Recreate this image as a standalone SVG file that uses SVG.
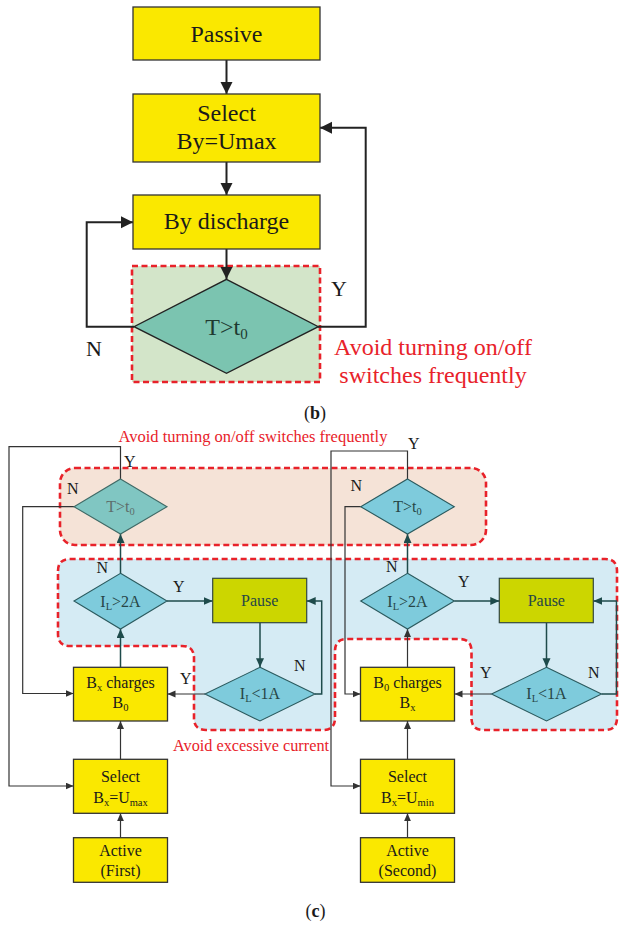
<svg xmlns="http://www.w3.org/2000/svg" width="619" height="925" viewBox="0 0 619 925" font-family="'Liberation Serif', 'DejaVu Serif', serif">
  <style>
    text { font-family: 'Liberation Serif', 'DejaVu Serif', serif; }
    .b24 { font-size: 24px; fill: #1a1a1a; text-anchor: middle; }
    .c16 { font-size: 16px; fill: #1a1a1a; text-anchor: middle; }
    .lbl { font-size: 16px; fill: #1a1a1a; }
    .lblb { font-size: 22px; fill: #1a1a1a; }
    .red { fill: #e8222a; }
    .teal-text { fill: #274646; }
    .box { fill: #fae800; stroke: #333; stroke-width: 1.3; }
    .pause { fill: #ccd600; stroke: #34473f; stroke-width: 1.2; }
    .dia-b { fill: #7bc4b0; stroke: #222; stroke-width: 1.3; }
    .dia-blue { fill: #7ecbdc; stroke: #2b5a5e; stroke-width: 1.1; }
    .dia-teal { fill: #80c6c2; stroke: #3f6a66; stroke-width: 1.1; }
    .conn-b { stroke: #222; stroke-width: 2; fill: none; }
    .conn { stroke: #333; stroke-width: 1.2; fill: none; }
    .conn-t { stroke: #1e4b4b; stroke-width: 1.5; fill: none; }
    .zone { stroke: #e8222a; stroke-width: 2.6; stroke-dasharray: 6 3.5; }
  </style>
  <defs>
    <marker id="mb" markerUnits="userSpaceOnUse" markerWidth="13" markerHeight="13" refX="12" refY="6" orient="auto">
      <path d="M0,0 L12,6 L0,12 z" fill="#222"/>
    </marker>
    <marker id="ms" markerUnits="userSpaceOnUse" markerWidth="9" markerHeight="9" refX="8" refY="3.5" orient="auto">
      <path d="M0,0 L8,3.5 L0,7 z" fill="#333"/>
    </marker>
    <marker id="mt" markerUnits="userSpaceOnUse" markerWidth="10" markerHeight="10" refX="9" refY="4" orient="auto">
      <path d="M0,0 L9,4 L0,8 z" fill="#1e4b4b"/>
    </marker>
  </defs>

  <!-- ===== Panel (b) ===== -->
  <g id="zone-b">
    <rect class="zone" x="132" y="266" width="188" height="116" fill="#d3e5c9"/>
  </g>

  <g id="connectors-b">
    <path class="conn-b" d="M226.5 60 V94" marker-end="url(#mb)"/>
    <path class="conn-b" d="M226.5 162 V195" marker-end="url(#mb)"/>
    <path class="conn-b" d="M226.5 249 V279" marker-end="url(#mb)"/>
    <path class="conn-b" d="M318 326.7 H365.7 V127.7 H320" marker-end="url(#mb)"/>
    <path class="conn-b" d="M134 326.7 H86.7 V222.3 H133" marker-end="url(#mb)"/>
  </g>

  <g id="b-passive">
    <rect class="box" x="133" y="7" width="187" height="53"/>
    <text class="b24" x="226.5" y="42">Passive</text>
  </g>
  <g id="b-select">
    <rect class="box" x="133" y="94" width="187" height="68"/>
    <text class="b24" x="226.5" y="121">Select</text>
    <text class="b24" x="226.5" y="149">By=Umax</text>
  </g>
  <g id="b-discharge">
    <rect class="box" x="133" y="195" width="187" height="54"/>
    <text class="b24" x="226.5" y="229">By discharge</text>
  </g>
  <g id="b-timer">
    <polygon class="dia-b" points="226.5,279.3 318.3,326.7 226.5,373.3 134,326.7"/>
    <text class="b24" x="226.5" y="335" style="fill:#1f3a30">T&gt;t<tspan font-size="15" dy="4">0</tspan></text>
  </g>
  <text class="lblb" x="331" y="296">Y</text>
  <text class="lblb" x="86" y="356">N</text>
  <text class="red" x="433" y="355" font-size="24" text-anchor="middle">Avoid turning on/off</text>
  <text class="red" x="433" y="383" font-size="24" text-anchor="middle">switches frequently</text>
  <text x="315" y="419" font-size="18" text-anchor="middle" fill="#1a1a1a">(<tspan font-weight="bold">b</tspan>)</text>

  <!-- ===== Panel (c) ===== -->
  <g id="zones-c">
    <rect class="zone" x="60" y="468" width="426" height="77" rx="15" fill="#f5e3d7"/>
    <path class="zone" fill="#d5ebf4" d="M58 571 Q58 559 70 559 H605 Q617 559 617 571 V718 Q617 730 605 730 H483.5 Q471.5 730 471.5 718 V651 Q471.5 639 459.5 639 H347 Q335 639 335 651 V718 Q335 730 323 730 H206 Q194 730 194 718 V658 Q194 646 182 646 H70 Q58 646 58 634 Z"/>
  </g>
  <text class="red" x="253" y="442" font-size="16.5" text-anchor="middle">Avoid turning on/off switches frequently</text>
  <text class="red" x="251" y="751" font-size="16.3" text-anchor="middle">Avoid excessive current</text>

  <g id="connectors-c">
    <!-- left chart -->
    <path class="conn" d="M120.5 479 V446.7 H9 V786 H73.5" marker-end="url(#ms)"/>
    <path class="conn" d="M74 506.7 H22.7 V693.5 H73.5" marker-end="url(#ms)"/>
    <path class="conn-t" d="M120.5 573.3 V534" marker-end="url(#mt)"/>
    <path class="conn-t" d="M167 601 H212.7" marker-end="url(#mt)"/>
    <path class="conn-t" d="M260 622.7 V667.3" marker-end="url(#mt)"/>
    <path class="conn-t" d="M315 694 H321.7 V601 H306.7" marker-end="url(#mt)"/>
    <path class="conn" d="M205 694 H167.5" marker-end="url(#ms)"/>
    <path class="conn-t" d="M120.5 667.3 V629" marker-end="url(#mt)"/>
    <path class="conn" d="M120.5 759.3 V721" marker-end="url(#ms)"/>
    <path class="conn" d="M120.5 837.7 V813.3" marker-end="url(#ms)"/>
    <!-- right chart -->
    <path class="conn" d="M407.5 479 V451 H331 V786 H360.5" marker-end="url(#ms)"/>
    <path class="conn" d="M360.7 506.7 H345 V694 H360.5" marker-end="url(#ms)"/>
    <path class="conn-t" d="M407.5 573.3 V534" marker-end="url(#mt)"/>
    <path class="conn-t" d="M454.3 601 H499.3" marker-end="url(#mt)"/>
    <path class="conn-t" d="M546.5 622.7 V667.3" marker-end="url(#mt)"/>
    <path class="conn-t" d="M601.5 694 H616.5 V601 H593.3" marker-end="url(#mt)"/>
    <path class="conn" d="M491.5 694 H454.5" marker-end="url(#ms)"/>
    <path class="conn" d="M407.5 667.3 V629" marker-end="url(#ms)"/>
    <path class="conn" d="M407.5 759.3 V721" marker-end="url(#ms)"/>
    <path class="conn" d="M407.5 837.7 V813.3" marker-end="url(#ms)"/>
  </g>

  <!-- left chart nodes -->
  <g id="l-timer">
    <polygon class="dia-teal" points="120.5,479 167,506.7 120.5,534 74,506.7"/>
    <text class="c16" x="120.5" y="511.7" style="fill:#5e6e6c">T&gt;t<tspan font-size="10.5" dy="3.5">0</tspan></text>
  </g>
  <g id="l-current-high">
    <polygon class="dia-blue" points="120.5,573.3 167,601 120.5,629 74,601"/>
    <text class="c16 teal-text" x="120.5" y="606.5">I<tspan font-size="10.5" dy="3">L</tspan><tspan dy="-3">&gt;2A</tspan></text>
  </g>
  <g id="l-pause">
    <rect class="pause" x="212.7" y="578.3" width="94" height="44.4"/>
    <text class="c16 teal-text" x="259.7" y="606">Pause</text>
  </g>
  <g id="l-current-low">
    <polygon class="dia-blue" points="260,667.3 315,694 260,721 205,694"/>
    <text class="c16 teal-text" x="260" y="699">I<tspan font-size="10.5" dy="3">L</tspan><tspan dy="-3">&lt;1A</tspan></text>
  </g>
  <g id="l-charge">
    <rect class="box" x="73.5" y="667.3" width="94" height="53.7"/>
    <text class="c16" x="120.5" y="688.3">B<tspan font-size="10.5" dy="3">x</tspan><tspan dy="-3"> charges</tspan></text>
    <text class="c16" x="120.5" y="708.3">B<tspan font-size="10.5" dy="3">0</tspan></text>
  </g>
  <g id="l-select">
    <rect class="box" x="73.5" y="759.3" width="94" height="54"/>
    <text class="c16" x="120.5" y="781.7">Select</text>
    <text class="c16" x="120.5" y="803.3">B<tspan font-size="10.5" dy="3">x</tspan><tspan dy="-3">=U</tspan><tspan font-size="10.5" dy="3">max</tspan></text>
  </g>
  <g id="l-active">
    <rect class="box" x="73.5" y="837.7" width="94" height="44.6"/>
    <text class="c16" x="120.5" y="855.5">Active</text>
    <text class="c16" x="120.5" y="875.5">(First)</text>
  </g>

  <!-- right chart nodes -->
  <g id="r-timer">
    <polygon class="dia-blue" points="407.5,479 454.3,506.7 407.5,534 360.7,506.7"/>
    <text class="c16 teal-text" x="407.5" y="511.7">T&gt;t<tspan font-size="10.5" dy="3.5">0</tspan></text>
  </g>
  <g id="r-current-high">
    <polygon class="dia-blue" points="407.5,573.3 454.3,601 407.5,629 360.7,601"/>
    <text class="c16 teal-text" x="407.5" y="606.5">I<tspan font-size="10.5" dy="3">L</tspan><tspan dy="-3">&gt;2A</tspan></text>
  </g>
  <g id="r-pause">
    <rect class="pause" x="499.3" y="578.3" width="94" height="44.4"/>
    <text class="c16 teal-text" x="546.3" y="606">Pause</text>
  </g>
  <g id="r-current-low">
    <polygon class="dia-blue" points="546.5,667.3 601.5,694 546.5,721 491.5,694"/>
    <text class="c16 teal-text" x="546.5" y="699">I<tspan font-size="10.5" dy="3">L</tspan><tspan dy="-3">&lt;1A</tspan></text>
  </g>
  <g id="r-charge">
    <rect class="box" x="360.5" y="667.3" width="94" height="53.7"/>
    <text class="c16" x="407.5" y="688.3">B<tspan font-size="10.5" dy="3">0</tspan><tspan dy="-3"> charges</tspan></text>
    <text class="c16" x="407.5" y="708.3">B<tspan font-size="10.5" dy="3">x</tspan></text>
  </g>
  <g id="r-select">
    <rect class="box" x="360.5" y="759.3" width="94" height="54"/>
    <text class="c16" x="407.5" y="781.7">Select</text>
    <text class="c16" x="407.5" y="803.3">B<tspan font-size="10.5" dy="3">x</tspan><tspan dy="-3">=U</tspan><tspan font-size="10.5" dy="3">min</tspan></text>
  </g>
  <g id="r-active">
    <rect class="box" x="360.5" y="837.7" width="94" height="44.6"/>
    <text class="c16" x="407.5" y="855.5">Active</text>
    <text class="c16" x="407.5" y="875.5">(Second)</text>
  </g>

  <!-- branch labels -->
  <g id="branch-labels">
    <text class="lbl" x="124" y="467">Y</text>
    <text class="lbl" x="67" y="494">N</text>
    <text class="lbl" x="96.5" y="572.5">N</text>
    <text class="lbl" x="173" y="591.5">Y</text>
    <text class="lbl" x="294" y="670.5">N</text>
    <text class="lbl" x="180" y="683.5">Y</text>
    <text class="lbl" x="408" y="449">Y</text>
    <text class="lbl" x="350.5" y="490.5">N</text>
    <text class="lbl" x="386" y="571.5">N</text>
    <text class="lbl" x="458" y="586.5">Y</text>
    <text class="lbl" x="480" y="677.5">Y</text>
    <text class="lbl" x="588" y="677.5">N</text>
  </g>
  <text x="315.5" y="917" font-size="18" text-anchor="middle" fill="#1a1a1a">(<tspan font-weight="bold">c</tspan>)</text>
</svg>
